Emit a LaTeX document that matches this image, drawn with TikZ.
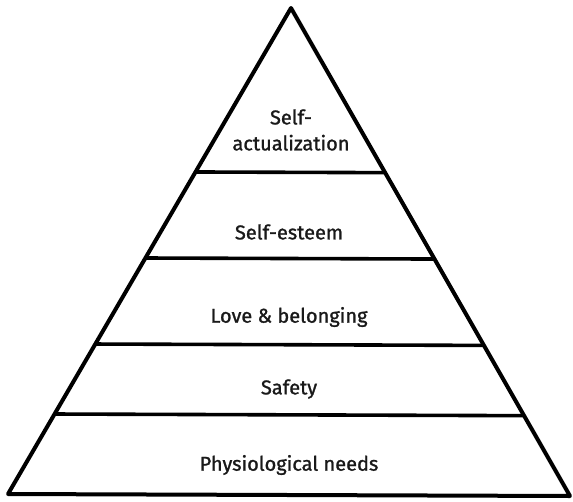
\documentclass[tikz,border=0pt]{standalone}
\usepackage{fontspec}
\setmainfont{Fira Sans}
\newfontfamily\lblfont[FakeBold=1.2]{Fira Sans}
\usetikzlibrary{calc}
\tikzset{
  edge/.style={line width=4pt, line join=round, line cap=round, black},
  tier/.style={line width=3.6pt, black},
  lbl/.style={font=\lblfont\fontsize{20}{26}\selectfont, align=center, inner sep=0pt, text=black!90}
}
\begin{document}
\begin{tikzpicture}[x=1pt,y=-1pt]
\useasboundingbox (0,0) rectangle (573,501);
\coordinate (apex) at (291,8);
\coordinate (bl) at (8,494);
\coordinate (br) at (570,496);
\draw[edge] (bl) -- (apex) -- (br) -- cycle;
\foreach \t/\n in {0.3374/a,0.5144/b,0.6914/c,0.8354/d}{
  \coordinate (l\n) at ($(apex)!\t!(bl)$);
  \coordinate (r\n) at ($(apex)!\t!(br)$);
  \draw[tier] (l\n) -- (r\n);
}
\node[lbl] (n1) at (291,130) {Self-\\actualization};
\node[lbl] (n2) at (289,232) {Self-esteem};
\node[lbl] (n3) at (289,317) {Love \& belonging};
\node[lbl] (n4) at (289,389) {Safety};
\node[lbl] (n5) at (289,465) {Physiological needs};
\end{tikzpicture}
\end{document}
